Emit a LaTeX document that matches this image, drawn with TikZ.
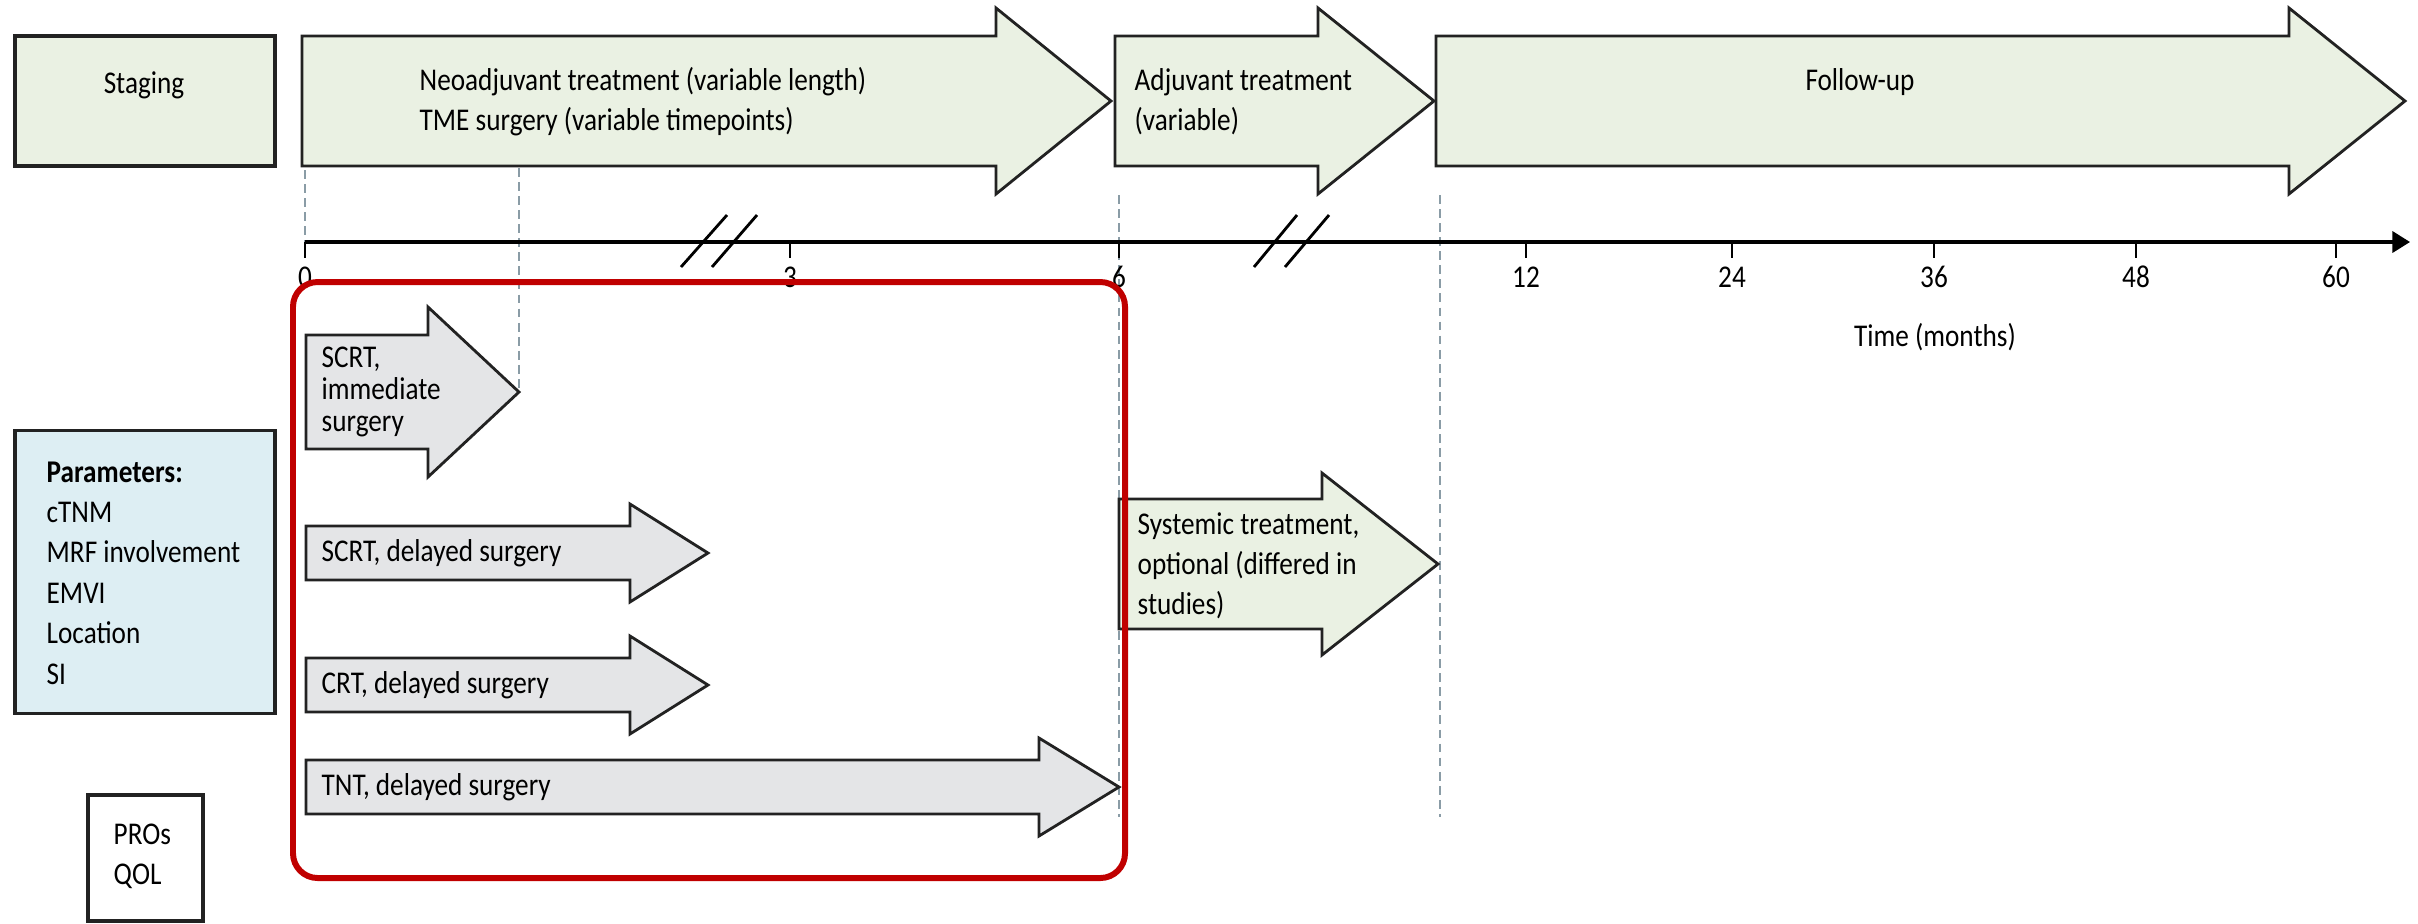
\documentclass[tikz,border=0pt]{standalone}
\usepackage{fontspec}
\setmainfont{Carlito}[FakeStretch=0.86]
\usepackage{xcolor}
\usepackage{tikz}
\usetikzlibrary{arrows.meta,positioning,calc}
\definecolor{phasegreen}{HTML}{EAF1E3}
\definecolor{armgray}{HTML}{E4E5E7}
\definecolor{parblue}{HTML}{DDEEF3}
\definecolor{framered}{HTML}{C00000}
\definecolor{guide}{HTML}{8A9CA6}
\definecolor{bk90}{HTML}{222222}
\tikzset{
  phasebox/.style={
    rectangle, draw=bk90, fill=#1, line width=0.9pt,
    inner sep=0pt
  },
  phasebox/.default=phasegreen,
  blockarrow/.style={
    draw=bk90, fill=#1, line width=0.8pt, line join=miter
  },
  blockarrow/.default=phasegreen,
  lbl/.style={font=\fontsize{9}{11.4}\selectfont, align=left, inner sep=0pt},
  guideline/.style={draw=guide, line width=0.6pt, dash pattern=on 2.5pt off 1.5pt},
  timeaxis/.style={line width=0.9pt, -{Triangle[length=5pt, width=6pt]}},
  tickmark/.style={line width=0.6pt},
  breakmark/.style={line width=0.8pt},
  armframe/.style={draw=framered, line width=1.7pt, rounded corners=7pt},
}
% block arrow: [fill] left, head start, tip, centre y, half shaft, half head
\newcommand{\phasearrow}[7][phasegreen]{%
  \draw[blockarrow=#1] (#2,#5-#6) -- (#3,#5-#6) -- (#3,#5-#7) -- (#4,#5)
    -- (#3,#5+#7) -- (#3,#5+#6) -- (#2,#5+#6) -- cycle;}

\begin{document}
\begin{tikzpicture}[x=0.01cm, y=-0.01cm]
  \useasboundingbox (0,0) rectangle (2418,923);

  % Guides
  \coordinate (g0_top) at (305,170);
  \coordinate (g0_bot) at (305,242);
  \coordinate (tme_top) at (519,168);
  \coordinate (scrt_tip) at (519,390);
  \coordinate (g6_top) at (1119,195);
  \coordinate (g6_bot) at (1119,817);
  \coordinate (gfu_top) at (1440,195);
  \coordinate (gfu_bot) at (1440,817);
  \draw[guideline] (g0_top) -- (g0_bot);
  \draw[guideline] (tme_top) -- (scrt_tip);
  \draw[guideline] (g6_top) -- (g6_bot);
  \draw[guideline] (gfu_top) -- (gfu_bot);

  % Phases
  \node[phasebox, minimum width=2.6cm, minimum height=1.3cm] (staging) at (145,101) {};
  \node[lbl] (staging_txt) at (144,85) {Staging};
  \phasearrow{302}{996}{1111}{101}{65}{93}
  \node[lbl, anchor=west] (neo_txt) at (419,102) {Neoadjuvant treatment (variable length)\\TME surgery (variable timepoints)};
  \phasearrow{1115}{1318}{1434}{101}{65}{93}
  \node[lbl, anchor=west] (adj_txt) at (1134,102) {Adjuvant treatment\\(variable)};
  \phasearrow{1436}{2289}{2405}{101}{65}{93}
  \node[lbl] (fu_txt) at (1860,82) {Follow-up};

  % Time axis
  \draw[timeaxis] (g0_bot) -- (2410,242);
  \draw[tickmark] (305,242) -- (305,258);
  \draw[tickmark] (790,242) -- (790,258);
  \draw[tickmark] (1119,242) -- (1119,258);
  \draw[tickmark] (1526,242) -- (1526,258);
  \draw[tickmark] (1732,242) -- (1732,258);
  \draw[tickmark] (1934,242) -- (1934,258);
  \draw[tickmark] (2136,242) -- (2136,258);
  \draw[tickmark] (2336,242) -- (2336,258);
  \node[lbl] (m0) at (305,277) {0};
  \node[lbl] (m3) at (790,277) {3};
  \node[lbl] (m6) at (1119,277) {6};
  \node[lbl] (m12) at (1526,277) {12};
  \node[lbl] (m24) at (1732,277) {24};
  \node[lbl] (m36) at (1934,277) {36};
  \node[lbl] (m48) at (2136,277) {48};
  \node[lbl] (m60) at (2336,277) {60};
  \draw[breakmark] (681,267) -- (727,215);
  \draw[breakmark] (712,267) -- (757,215);
  \draw[breakmark] (1254,267) -- (1297,215);
  \draw[breakmark] (1285,267) -- (1329,215);
  \node[lbl] (time_lbl) at (1935,337) {Time (months)};

  % Parameters
  \node[phasebox=parblue, minimum width=2.6cm, minimum height=2.83cm] (params) at (145,572) {};
  \node[lbl, anchor=west, font=\fontsize{9}{11.5}\selectfont] (params_txt) at (46,573) {\textbf{Parameters:}\\cTNM\\MRF involvement\\EMVI\\Location\\SI};
  \node[phasebox=white, minimum width=1.15cm, minimum height=1.26cm] (pros) at (145.5,858) {};
  \node[lbl, anchor=west] (pros_txt) at (113,856) {PROs\\QOL};

  % Neoadjuvant arms
  \phasearrow[armgray]{306}{428}{519}{392}{57}{85}
  \node[lbl, anchor=west, font=\fontsize{9}{9.1}\selectfont] (scrt_imm) at (321,392) {SCRT,\\immediate\\surgery};
  \phasearrow[armgray]{306}{630}{708}{553}{27}{49}
  \node[lbl, anchor=west] (scrt_del) at (321,553) {SCRT, delayed surgery};
  \phasearrow[armgray]{306}{630}{708}{685}{27}{49}
  \node[lbl, anchor=west] (crt_del) at (321,685) {CRT, delayed surgery};
  \phasearrow[armgray]{306}{1039}{1119}{787}{27}{49}
  \node[lbl, anchor=west] (tnt_del) at (321,787) {TNT, delayed surgery};

  % Systemic
  \phasearrow{1119}{1322}{1438}{564}{65}{91}
  \node[lbl, anchor=west] (sys_txt) at (1137,566) {Systemic treatment,\\optional (differed in\\studies)};

  % Frame
  \draw[armframe] (293,282) rectangle (1125,878);
\end{tikzpicture}
\end{document}
